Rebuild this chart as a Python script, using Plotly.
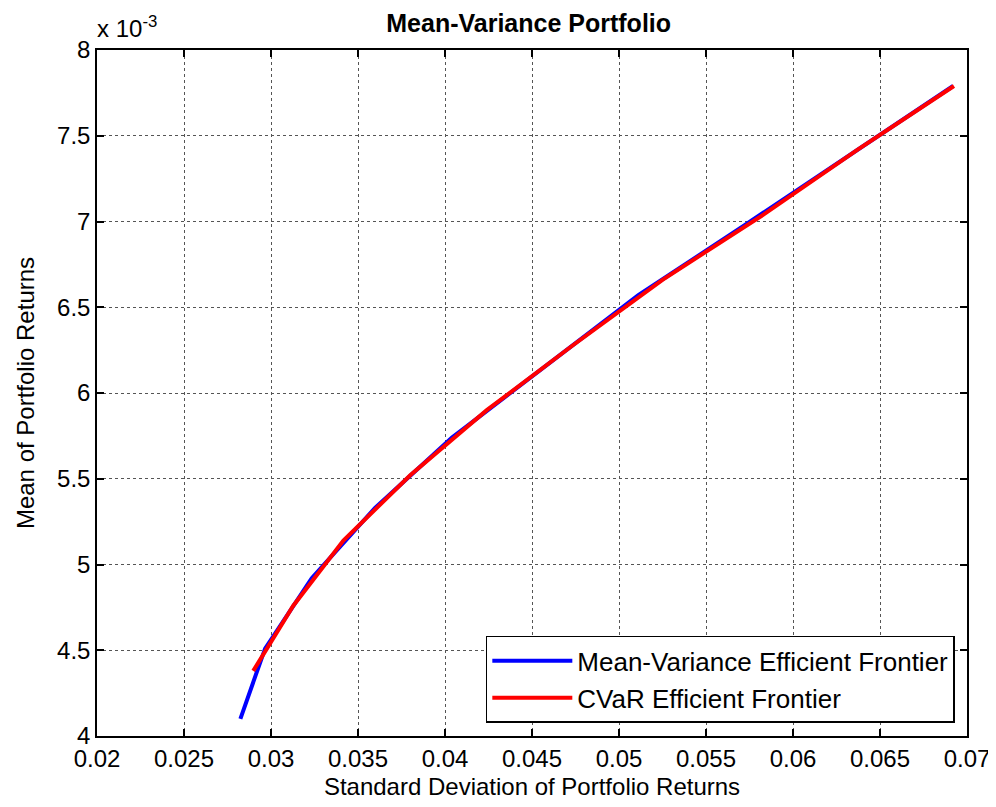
import plotly.graph_objects as go

# Mean-Variance efficient frontier (risk = std dev, return in units of 1e-3)
mv_risk = [0.02824, 0.02966, 0.03234, 0.03598, 0.04040, 0.04580, 0.05111, 0.05724, 0.06326, 0.06920]
mv_ret = [4.10, 4.51, 4.92, 5.33, 5.74, 6.16, 6.57, 6.98, 7.39, 7.79]

# CVaR efficient frontier
cvar_risk = [0.02898, 0.03128, 0.03416, 0.03800, 0.04240, 0.04737, 0.05250, 0.05830, 0.06374, 0.06925]
cvar_ret = [4.38, 4.76, 5.14, 5.52, 5.90, 6.28, 6.66, 7.04, 7.42, 7.79]

x_ticks = [0.02, 0.025, 0.03, 0.035, 0.04, 0.045, 0.05, 0.055, 0.06, 0.065, 0.07]
x_tick_text = ["0.02", "0.025", "0.03", "0.035", "0.04", "0.045", "0.05", "0.055", "0.06", "0.065", "0.07"]
y_ticks = [4, 4.5, 5, 5.5, 6, 6.5, 7, 7.5, 8]
y_tick_text = ["4", "4.5", "5", "5.5", "6", "6.5", "7", "7.5", "8"]

FONT = "Liberation Sans, Arial, sans-serif"

fig = go.Figure()
fig.add_trace(go.Scatter(x=mv_risk, y=mv_ret, mode="lines",
                         line=dict(color="#0000ff", width=4),
                         name="Mean-Variance Efficient Frontier"))
fig.add_trace(go.Scatter(x=cvar_risk, y=cvar_ret, mode="lines",
                         line=dict(color="#ff0000", width=4),
                         name="CVaR Efficient Frontier"))

axis_common = dict(
    showline=True, linecolor="black", linewidth=1.5, mirror="ticks",
    ticks="inside", ticklen=7, tickcolor="black", tickwidth=1.5,
    showgrid=True, gridcolor="#555555", griddash="dot", gridwidth=1,
    zeroline=False, ticklabeloverflow="allow",
    tickfont=dict(family=FONT, size=24, color="black"),
)

fig.update_xaxes(range=[0.02, 0.07], tickvals=x_ticks, ticktext=x_tick_text,
                 title=dict(text="Standard Deviation of Portfolio Returns",
                            font=dict(family=FONT, size=24, color="black"), standoff=8),
                 **axis_common)
fig.update_yaxes(range=[4, 8], tickvals=y_ticks, ticktext=y_tick_text,
                 title=dict(text="Mean of Portfolio Returns",
                            font=dict(family=FONT, size=24, color="black"), standoff=16),
                 **axis_common)

fig.add_annotation(xref="paper", yref="paper", x=0.0, y=1.0, xanchor="left", yanchor="bottom",
                   yshift=6, xshift=-2, text="x 10<sup>-3</sup>", showarrow=False,
                   font=dict(family=FONT, size=24, color="black"))

# page body adds an 8px offset; figure size/margins compensate so the plot area
# lands at x 97..967, y 50..736 of the window
fig.update_layout(
    width=988, height=799,
    margin=dict(l=89, r=29, t=42, b=71, autoexpand=False),
    paper_bgcolor="white", plot_bgcolor="white",
    title=dict(text="<b>Mean-Variance Portfolio</b>", x=0.527, xanchor="center",
               y=0.981, yanchor="middle",
               font=dict(family=FONT, size=25, color="black")),
    legend=dict(x=0.986, y=0.019, xanchor="right", yanchor="bottom",
                bgcolor="white", bordercolor="black", borderwidth=1.5,
                font=dict(family=FONT, size=26, color="black"),
                itemwidth=80, tracegroupgap=0),
    showlegend=True,
)

fig.write_html("out.html")
